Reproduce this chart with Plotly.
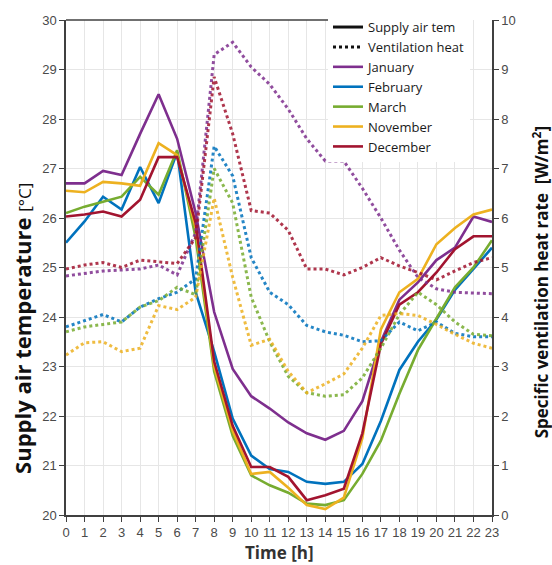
import plotly.graph_objects as go

hours = list(range(24))
tick_labels = [str(h) for h in hours]

months = ["January", "February", "March", "November", "December"]
colors = ["#7E2F8E", "#0072BD", "#77AC30", "#EDB120", "#A2142F"]

# Supply air temperature [°C] (left axis, solid)
temp_jan = [26.7, 26.7, 26.95, 26.87, 27.7, 28.5, 27.6, 26.1, 24.1, 22.95, 22.4, 22.15,
            21.87, 21.65, 21.52, 21.7, 22.3, 23.5, 24.35, 24.7, 25.15, 25.4, 26.03, 25.92]
temp_feb = [25.5, 25.93, 26.43, 26.17, 27.03, 26.3, 27.33, 24.5, 23.3, 21.95, 21.2, 20.93,
            20.87, 20.67, 20.63, 20.67, 21.03, 21.9, 22.93, 23.5, 23.95, 24.55, 24.97, 25.4]
temp_mar = [26.1, 26.23, 26.33, 26.43, 26.83, 26.47, 27.37, 25.6, 22.9, 21.6, 20.8, 20.6,
            20.45, 20.23, 20.2, 20.3, 20.83, 21.5, 22.45, 23.33, 23.97, 24.6, 25.0, 25.55]
temp_nov = [26.55, 26.52, 26.73, 26.7, 26.65, 27.51, 27.27, 25.8, 23.0, 21.7, 20.83, 20.87,
            20.55, 20.2, 20.12, 20.35, 21.55, 23.75, 24.5, 24.77, 25.47, 25.8, 26.07, 26.17]
temp_dec = [26.03, 26.07, 26.13, 26.03, 26.37, 27.23, 27.23, 25.9, 23.1, 21.8, 20.97, 20.97,
            20.77, 20.3, 20.4, 20.53, 21.65, 23.45, 24.25, 24.5, 24.9, 25.37, 25.63, 25.63]

# Specific ventilation heat rate [W/m²] (right axis, dotted)
vent_jan = [4.83, 4.88, 4.93, 4.95, 4.97, 5.05, 4.85, 5.7, 9.3, 9.55, 9.05, 8.7,
            8.2, 7.6, 7.15, 7.15, 6.6, 6.0, 5.35, 4.8, 4.57, 4.5, 4.48, 4.47]
vent_feb = [3.8, 3.93, 4.05, 3.9, 4.2, 4.37, 4.5, 4.77, 7.45, 6.85, 5.2, 4.5,
            4.25, 3.83, 3.7, 3.63, 3.5, 3.52, 3.9, 3.72, 3.9, 3.67, 3.6, 3.6]
vent_mar = [3.7, 3.8, 3.85, 3.9, 4.2, 4.33, 4.6, 4.45, 7.0, 6.3, 4.4, 3.5,
            2.8, 2.47, 2.4, 2.43, 2.77, 3.37, 4.05, 4.5, 4.25, 3.9, 3.65, 3.62]
vent_nov = [3.23, 3.48, 3.5, 3.3, 3.37, 4.23, 4.15, 4.4, 6.4, 4.8, 3.43, 3.55,
            2.9, 2.47, 2.65, 2.85, 3.37, 4.03, 4.07, 4.03, 3.85, 3.65, 3.47, 3.37]
vent_dec = [4.97, 5.05, 5.1, 5.0, 5.15, 5.12, 5.08, 5.6, 8.85, 7.7, 6.15, 6.1,
            5.75, 4.97, 4.97, 4.85, 5.0, 5.2, 5.03, 4.9, 4.75, 4.93, 5.1, 5.2]

temps = [temp_jan, temp_feb, temp_mar, temp_nov, temp_dec]
vents = [vent_jan, vent_feb, vent_mar, vent_nov, vent_dec]

fig = go.Figure()

# dotted ventilation heat lines (right axis)
for m, c, v in zip(months, colors, vents):
    fig.add_trace(go.Scatter(x=hours, y=v, yaxis="y2", mode="lines", name=m,
                             line=dict(color=c, width=3, dash="dot"), opacity=0.85,
                             showlegend=False, hoverinfo="skip"))

# solid supply air temperature lines (left axis)
for i, (m, c, t) in enumerate(zip(months, colors, temps)):
    fig.add_trace(go.Scatter(x=hours, y=t, mode="lines", name=m,
                             line=dict(color=c, width=2.6), legendrank=10 + i))

# legend-only entries for line styles
fig.add_trace(go.Scatter(x=[None], y=[None], mode="lines", name="Supply air tem",
                         line=dict(color="#111111", width=3), legendrank=1))
fig.add_trace(go.Scatter(x=[None], y=[None], mode="lines", name="Ventilation heat",
                         line=dict(color="#111111", width=3, dash="dot"), legendrank=2))

axis_common = dict(showline=True, linecolor="#404040", linewidth=1.5,
                   ticks="outside", ticklen=5, tickcolor="#404040",
                   tickfont=dict(family="Liberation Sans, Arial", size=13, color="#4a4a4a"),
                   zeroline=False)

fig.update_layout(
    width=552, height=565,
    margin=dict(l=66, r=60, t=15, b=50),
    paper_bgcolor="white", plot_bgcolor="white",
    showlegend=True,
    xaxis=dict(range=[0, 23], tickmode="array", tickvals=hours, ticktext=tick_labels,
               showgrid=True, gridcolor="#e6e6e6", gridwidth=1, **axis_common),
    yaxis=dict(range=[20, 30], dtick=1, showgrid=True, gridcolor="#e6e6e6", gridwidth=1,
               **axis_common),
    yaxis2=dict(range=[0, 10], dtick=1, overlaying="y", side="right", showgrid=False,
                **axis_common),
    legend=dict(x=(328 - 66) / 426, y=(515 - 7) / 500, xanchor="left", yanchor="top",
                bgcolor="white", borderwidth=0, tracegroupgap=0,
                font=dict(family="Open Sans", size=13, color="#1a1a1a")),
    font=dict(family="Open Sans"),
)

# top border (partial) and legend bracket
fig.add_shape(type="line", xref="paper", yref="paper",
              x0=0, x1=(363 - 66) / 426, y0=1, y1=1,
              line=dict(color="#404040", width=1.5))
fig.add_shape(type="path", xref="paper", yref="paper",
              path="M {a},{t} L {b},{t} L {b},{bt} L {c},{bt}".format(
                  a=(363 - 66) / 426, b=(335 - 66) / 426, c=(360 - 66) / 426,
                  t=(515 - 18) / 500, bt=(515 - 152) / 500),
              line=dict(color="#404040", width=1.5))

# axis titles
fig.add_annotation(text="<b>Supply air temperature</b> <span style='font-size:17px'>[°C]</span>",
                   xref="paper", yref="paper", x=(22 - 66) / 426, y=(515 - 327) / 500,
                   textangle=-90, showarrow=False, xanchor="center", yanchor="middle",
                   font=dict(family="Open Sans", size=22, color="#111111"))
fig.add_annotation(text="<b>Specific ventilation heat rate  [W/m<sup>2</sup>]</b>",
                   xref="paper", yref="paper", x=(540 - 66) / 426, y=(515 - 280) / 500,
                   textangle=-90, showarrow=False, xanchor="center", yanchor="middle",
                   font=dict(family="Open Sans", size=17, color="#111111"))
fig.add_annotation(text="<b>Time [h]</b>", xref="paper", yref="paper",
                   x=0.5, y=(515 - 553) / 500, showarrow=False,
                   xanchor="center", yanchor="middle",
                   font=dict(family="Open Sans", size=17, color="#333333"))

fig.write_html("out.html")
